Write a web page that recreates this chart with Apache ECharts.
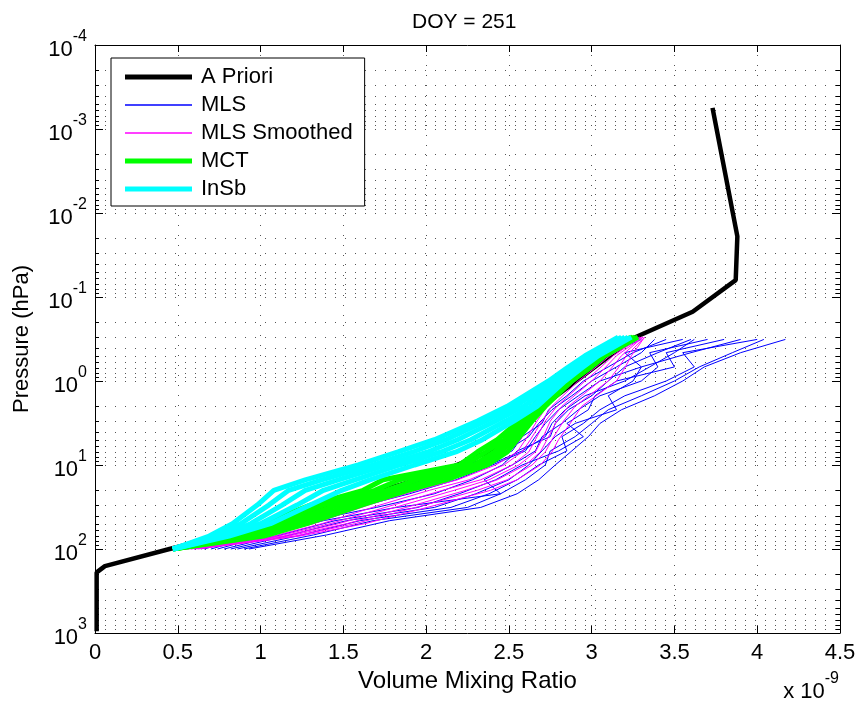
<!DOCTYPE html>
<html>
<head>
<meta charset="utf-8">
<title>DOY = 251</title>
<script src="https://cdn.jsdelivr.net/npm/echarts@6/dist/echarts.min.js"></script>
<style>
  html, body { margin: 0; padding: 0; background: #fff; }
  #chart { width: 860px; height: 705px; }
</style>
</head>
<body>
<div id="chart"></div>
<script>
// values are volume mixing ratio in units of 1e-9, pressure in hPa
var presRet = [100, 70, 50, 30, 20, 15, 10, 7, 5, 3, 2, 1, 0.7, 0.5, 0.3];
var presMls = [100, 68, 46, 32, 22, 15, 10, 6.8, 4.6, 3.2, 2.2, 1.5, 1.0, 0.68, 0.46, 0.32];

var aprioriPres = [950, 190, 160, 100, 48, 36, 13, 5.5, 1.7, 0.31, 0.15, 0.063, 0.019, 0.00056];
var aprioriVmr  = [0.01, 0.01, 0.06, 0.45, 1.1, 1.3, 2.05, 2.5, 2.75, 3.25, 3.61, 3.87, 3.88, 3.73];

var mlsVmr = [
  [0.52, 0.80, 1.05, 1.32, 1.68, 2.00, 2.25, 2.45, 2.55, 2.62, 2.68, 2.78, 2.88, 2.98, 3.12, 3.30],
  [0.60, 0.88, 1.15, 1.45, 1.80, 2.10, 2.30, 2.52, 2.58, 2.70, 2.74, 2.85, 2.95, 3.10, 3.25, 3.45],
  [0.66, 0.95, 1.22, 1.58, 1.90, 2.18, 2.40, 2.60, 2.66, 2.72, 2.80, 2.92, 3.05, 3.30, 3.20, 3.55],
  [0.70, 1.00, 1.30, 1.70, 2.05, 2.28, 2.46, 2.55, 2.75, 2.78, 2.86, 3.00, 3.10, 3.20, 3.40, 3.60],
  [0.74, 1.05, 1.38, 1.82, 2.45, 2.35, 2.52, 2.66, 2.70, 2.82, 2.92, 3.05, 3.30, 3.40, 3.35, 3.70],
  [0.78, 1.12, 1.45, 1.95, 2.20, 2.42, 2.58, 2.80, 2.95, 2.85, 2.98, 3.02, 3.15, 3.50, 3.45, 3.80],
  [0.82, 1.18, 1.52, 2.05, 2.30, 2.50, 2.62, 2.70, 2.78, 2.90, 3.15, 3.10, 3.25, 3.30, 3.60, 3.90],
  [0.86, 1.25, 1.60, 2.15, 2.38, 2.55, 2.68, 2.85, 2.82, 2.95, 3.05, 3.20, 3.45, 3.62, 3.55, 4.00],
  [0.90, 1.32, 1.68, 2.25, 2.45, 2.60, 2.72, 2.75, 2.90, 3.00, 3.10, 3.30, 3.50, 3.65, 3.85, 4.04],
  [0.93, 1.40, 1.78, 2.33, 2.55, 2.68, 2.78, 2.88, 2.98, 3.05, 3.18, 3.38, 3.55, 3.68, 3.90, 4.17],
  [0.56, 0.84, 1.10, 1.40, 1.75, 2.05, 2.35, 2.48, 2.62, 2.68, 2.76, 2.88, 3.00, 3.15, 3.30, 3.38],
  [0.64, 0.92, 1.18, 1.50, 1.85, 2.15, 2.38, 2.58, 2.72, 2.76, 2.84, 2.96, 3.20, 3.35, 3.50, 3.62]
];

var mlsSmoothVmr = [
  [0.50, 1.00, 1.26, 1.57, 1.87, 2.12, 2.36, 2.50, 2.57, 2.64, 2.71, 2.87, 2.98, 3.07, 3.28],
  [0.52, 1.04, 1.32, 1.65, 1.95, 2.19, 2.42, 2.55, 2.60, 2.67, 2.73, 2.90, 3.00, 3.09, 3.29],
  [0.54, 1.08, 1.37, 1.72, 2.02, 2.26, 2.47, 2.58, 2.63, 2.70, 2.76, 2.92, 3.02, 3.11, 3.30],
  [0.55, 1.11, 1.42, 1.80, 2.10, 2.33, 2.52, 2.62, 2.66, 2.72, 2.79, 2.96, 3.05, 3.13, 3.30],
  [0.57, 1.14, 1.47, 1.86, 2.17, 2.38, 2.56, 2.66, 2.70, 2.75, 2.82, 3.00, 3.08, 3.15, 3.31],
  [0.58, 1.17, 1.52, 1.93, 2.24, 2.43, 2.60, 2.69, 2.73, 2.79, 2.86, 3.05, 3.12, 3.18, 3.31],
  [0.60, 1.21, 1.57, 1.99, 2.31, 2.49, 2.64, 2.72, 2.76, 2.83, 2.90, 3.10, 3.16, 3.21, 3.32],
  [0.62, 1.24, 1.63, 2.06, 2.39, 2.55, 2.69, 2.76, 2.80, 2.88, 2.94, 3.15, 3.20, 3.24, 3.32]
];

var mctVmr = [
  [0.47, 0.84, 1.02, 1.30, 1.62, 1.74, 2.20, 2.31, 2.43, 2.56, 2.64, 2.81, 2.92, 3.03, 3.24],
  [0.47, 0.89, 1.08, 1.38, 1.69, 1.84, 2.24, 2.36, 2.47, 2.58, 2.66, 2.83, 2.94, 3.04, 3.25],
  [0.47, 0.94, 1.15, 1.46, 1.76, 1.94, 2.29, 2.41, 2.50, 2.60, 2.68, 2.85, 2.96, 3.05, 3.26],
  [0.47, 0.98, 1.22, 1.54, 1.83, 2.03, 2.33, 2.45, 2.53, 2.62, 2.70, 2.87, 2.98, 3.07, 3.27],
  [0.47, 1.02, 1.28, 1.61, 1.89, 2.12, 2.37, 2.49, 2.55, 2.64, 2.72, 2.88, 2.99, 3.08, 3.28]
];

var insbVmr = [
  [0.47, 0.69, 0.83, 0.98, 1.08, 1.27, 1.59, 1.83, 2.05, 2.31, 2.49, 2.74, 2.85, 2.96, 3.16],
  [0.47, 0.72, 0.88, 1.05, 1.17, 1.37, 1.68, 1.92, 2.12, 2.36, 2.54, 2.77, 2.88, 2.98, 3.18],
  [0.47, 0.75, 0.94, 1.13, 1.27, 1.47, 1.76, 2.01, 2.19, 2.42, 2.59, 2.80, 2.90, 3.00, 3.20],
  [0.47, 0.78, 1.00, 1.22, 1.38, 1.57, 1.84, 2.09, 2.27, 2.48, 2.64, 2.82, 2.92, 3.02, 3.22],
  [0.47, 0.81, 1.06, 1.30, 1.49, 1.66, 1.93, 2.18, 2.34, 2.53, 2.67, 2.84, 2.94, 3.04, 3.24]
];

// log minor ticks: 2..9 in each decade
var minorMult = [2, 3, 4, 5, 6, 7, 8, 9];
var decades = [-4, -3, -2, -1, 0, 1, 2];

var FONT = 'Liberation Sans, Arial, Helvetica, sans-serif';

var minorData = [];
decades.forEach(function (d) {
    minorMult.forEach(function (m) {
        minorData.push([0, m * Math.pow(10, d)]);
    });
});

function profileSeries(name, list, pres, color, width) {
    return list.map(function (vmr) {
        return {
            name: name,
            type: 'line',
            data: vmr.map(function (v, i) { return [v, pres[i]]; }),
            symbol: 'none',
            showSymbol: false,
            lineStyle: { color: color, width: width },
            itemStyle: { color: color, borderWidth: 0 },
            emphasis: { disabled: true },
            animation: false
        };
    });
}

var series = [{
    type: 'custom',
    silent: true,
    data: minorData,
    renderItem: function (params, api) {
        var cs = params.coordSys;
        var y = Math.round(api.coord([0, api.value(1)])[1]) + 0.5;
        var x0 = cs.x, x1 = cs.x + cs.width;
        return {
            type: 'group',
            children: [
                { type: 'line', shape: { x1: x0, y1: y, x2: x1, y2: y },
                  style: { stroke: '#555', lineWidth: 1, lineDash: [1, 9] } },
                { type: 'line', shape: { x1: x0, y1: y, x2: x0 + 4, y2: y },
                  style: { stroke: '#000', lineWidth: 1 } },
                { type: 'line', shape: { x1: x1 - 4, y1: y, x2: x1, y2: y },
                  style: { stroke: '#000', lineWidth: 1 } }
            ]
        };
    },
    animation: false
}];

series.push({
    name: 'A Priori',
    type: 'line',
    data: aprioriVmr.map(function (v, i) { return [v, aprioriPres[i]]; }),
    symbol: 'none',
    showSymbol: false,
    lineStyle: { color: '#000', width: 4.5 },
    itemStyle: { color: '#000', borderWidth: 0 },
    emphasis: { disabled: true },
    animation: false
});
series = series.concat(profileSeries('MLS', mlsVmr, presMls, '#0000ff', 1));
series = series.concat(profileSeries('MLS Smoothed', mlsSmoothVmr, presRet, '#ff00ff', 1));
series = series.concat(profileSeries('MCT', mctVmr, presRet, '#00ff00', 5));
series = series.concat(profileSeries('InSb', insbVmr, presRet, '#00ffff', 5));

var thickIcon = 'path://M0,0H67V5H0Z';
var thinIcon = 'path://M0,0H67V1.3H0Z';

var supRich = {
    b: { fontSize: 22, lineHeight: 32, verticalAlign: 'bottom', fontFamily: FONT, color: '#000' },
    s: { fontSize: 16, lineHeight: 16, verticalAlign: 'top', fontFamily: FONT, color: '#000' }
};

var chart = echarts.init(document.getElementById('chart'));

var option = {
    backgroundColor: '#fff',
    animation: false,
    textStyle: { fontFamily: FONT },
    title: {
        text: 'DOY = 251',
        left: 407,
        top: 7,
        textStyle: { fontSize: 21, fontWeight: 'normal', color: '#000', fontFamily: FONT }
    },
    legend: {
        data: [
            { name: 'A Priori', icon: thickIcon },
            { name: 'MLS', icon: thinIcon },
            { name: 'MLS Smoothed', icon: thinIcon },
            { name: 'MCT', icon: thickIcon },
            { name: 'InSb', icon: thickIcon }
        ],
        orient: 'vertical',
        left: 111,
        top: 58,
        padding: [8, 12, 6, 14],
        itemWidth: 67,
        itemHeight: 14,
        itemGap: 6,
        symbolKeepAspect: true,
        itemStyle: { borderWidth: 0 },
        backgroundColor: '#fff',
        borderColor: '#000',
        borderWidth: 1,
        borderRadius: 0,
        selectedMode: false,
        textStyle: { fontSize: 22, color: '#000', fontFamily: FONT, padding: [0, 0, 0, 4] }
    },
    grid: {
        left: 95,
        right: 20,
        top: 45,
        bottom: 72,
        containLabel: false,
        outerBoundsMode: 'none'
    },
    xAxis: [{
        type: 'value',
        min: 0,
        max: 4.5,
        interval: 0.5,
        name: 'Volume Mixing Ratio',
        nameLocation: 'middle',
        nameGap: 33,
        nameTextStyle: { fontSize: 24, color: '#000', fontFamily: FONT },
        axisLine: { show: true, onZero: false, lineStyle: { color: '#000', width: 1 } },
        axisTick: { show: true, inside: true, length: 7, lineStyle: { color: '#000' } },
        axisLabel: { fontSize: 22, color: '#000', margin: 9, fontFamily: FONT },
        splitLine: { show: true, lineStyle: { color: '#555', width: 1, type: [1, 9] } }
    }, {
        type: 'value',
        position: 'top',
        min: 0,
        max: 4.5,
        interval: 0.5,
        axisLine: { show: true, onZero: false, lineStyle: { color: '#000', width: 1 } },
        axisTick: { show: true, inside: true, length: 7, lineStyle: { color: '#000' } },
        axisLabel: { show: false },
        splitLine: { show: false }
    }],
    yAxis: [{
        type: 'log',
        logBase: 10,
        inverse: true,
        min: 1e-4,
        max: 1e3,
        splitNumber: 7,
        name: 'Pressure (hPa)',
        nameLocation: 'middle',
        nameGap: 62,
        nameTextStyle: { fontSize: 22, color: '#000', fontFamily: FONT },
        axisLine: { show: true, onZero: false, lineStyle: { color: '#000', width: 1 } },
        axisTick: { show: true, inside: true, length: 8, lineStyle: { color: '#000' } },
        axisLabel: {
            margin: 8,
            formatter: function (v) {
                return '{b|10}{s|' + Math.round(Math.log10(v)) + '}';
            },
            rich: supRich
        },
        splitLine: { show: true, lineStyle: { color: '#555', width: 1, type: [1, 9] } }
    }, {
        type: 'log',
        logBase: 10,
        inverse: true,
        min: 1e-4,
        max: 1e3,
        splitNumber: 7,
        position: 'right',
        axisLine: { show: true, onZero: false, lineStyle: { color: '#000', width: 1 } },
        axisTick: { show: true, inside: true, length: 8, lineStyle: { color: '#000' } },
        axisLabel: { show: false },
        splitLine: { show: false }
    }],
    graphic: [{
        type: 'text',
        x: 839,
        y: 687,
        style: {
            text: '{b|x 10}{s|-9}',
            rich: supRich,
            align: 'right',
            verticalAlign: 'middle'
        }
    }],
    series: series
};

chart.setOption(option);
</script>
</body>
</html>
